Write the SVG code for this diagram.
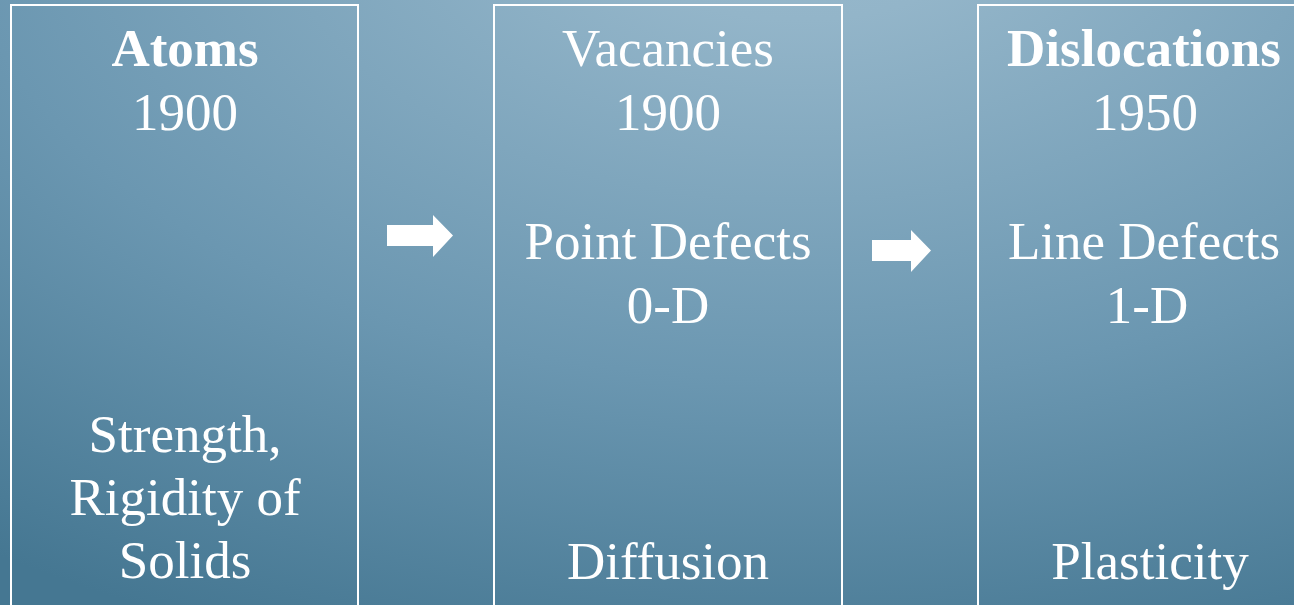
<svg xmlns="http://www.w3.org/2000/svg" width="1294" height="605" viewBox="0 0 1294 605">
  <defs>
    <radialGradient id="bg" gradientUnits="userSpaceOnUse" cx="800" cy="-100" r="800" gradientTransform="translate(800,-100) scale(1.75,1) translate(-800,100)">
      <stop offset="0" stop-color="#99bacd"/>
      <stop offset="0.15" stop-color="#93b5c9"/>
      <stop offset="0.6" stop-color="#6b97b1"/>
      <stop offset="1" stop-color="#457792"/>
    </radialGradient>
    <style>
      .box { fill: none; stroke: #ffffff; stroke-width: 2; }
      .t { font-family: "Liberation Serif", "Times New Roman", serif; font-size: 53px; fill: #ffffff; text-anchor: middle; }
      .b { font-weight: bold; }
      .arrow { fill: #ffffff; }
    </style>
  </defs>
  <rect x="0" y="0" width="1294" height="605" fill="url(#bg)"/>

  <g id="node-atoms">
    <rect class="box" x="11" y="5" width="347" height="640"/>
    <text class="t b" x="185" y="66">Atoms</text>
    <text class="t" x="185" y="130">1900</text>
    <text class="t" x="185" y="452">Strength,</text>
    <text class="t" x="185" y="515">Rigidity of</text>
    <text class="t" x="185" y="578">Solids</text>
  </g>

  <g id="node-vacancies">
    <rect class="box" x="494" y="5" width="348" height="640"/>
    <text class="t" x="668" y="66">Vacancies</text>
    <text class="t" x="668" y="130">1900</text>
    <text class="t" x="668" y="259">Point Defects</text>
    <text class="t" x="668" y="323">0-D</text>
    <text class="t" x="668" y="579">Diffusion</text>
  </g>

  <g id="node-dislocations">
    <rect class="box" x="978" y="5" width="348" height="640"/>
    <text class="t b" x="1144" y="66">Dislocations</text>
    <text class="t" x="1145" y="130">1950</text>
    <text class="t" x="1144" y="259">Line Defects</text>
    <text class="t" x="1147" y="323">1-D</text>
    <text class="t" x="1150" y="579">Plasticity</text>
  </g>

  <g id="connectors">
    <polygon class="arrow" points="387,225 433,225 433,215 453,235.5 433,257 433,246 387,246"/>
    <polygon class="arrow" points="872,240 911,240 911,230 931,250.5 911,272 911,261 872,261"/>
  </g>
</svg>
